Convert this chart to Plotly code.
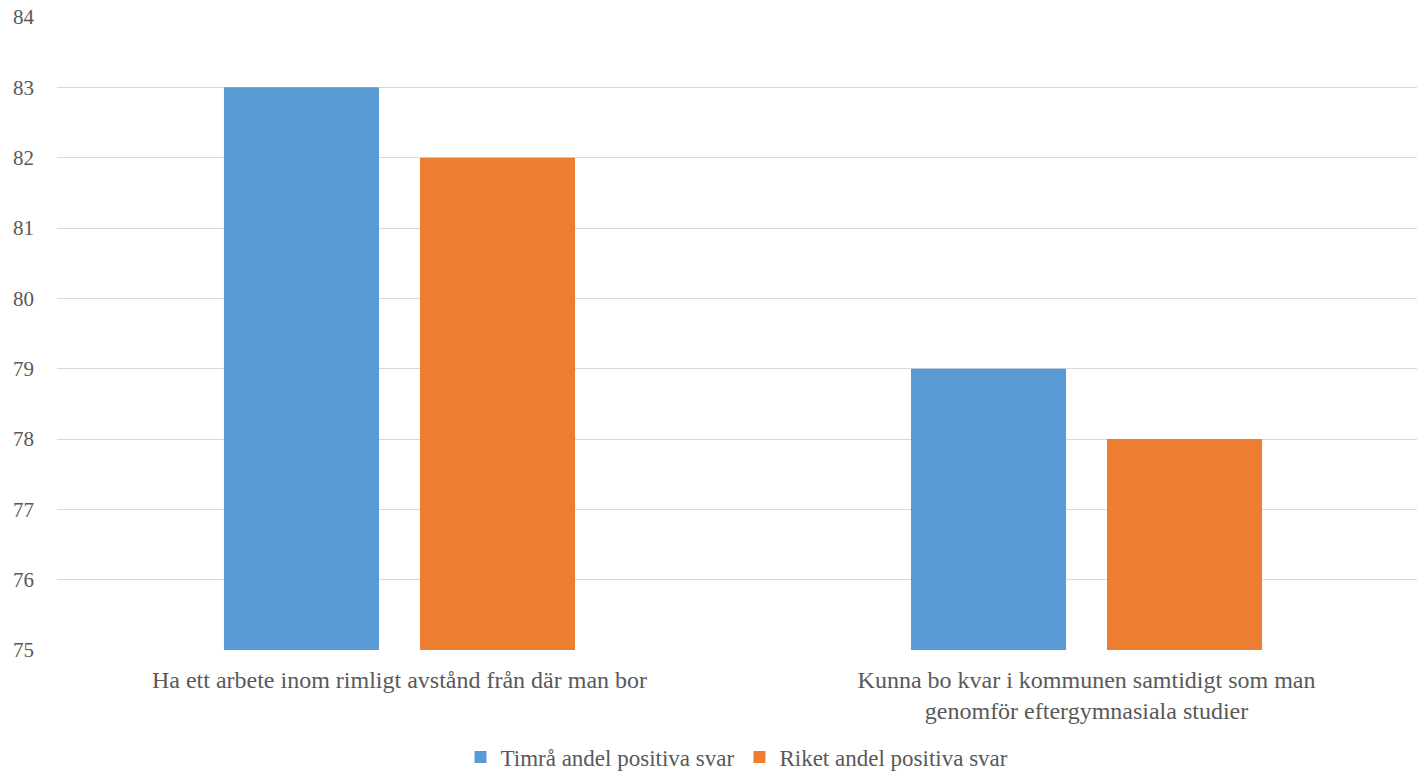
import plotly.graph_objects as go

categories = [
    "Ha ett arbete inom rimligt avstånd från där man bor",
    "Kunna bo kvar i kommunen samtidigt som man<br>genomför eftergymnasiala studier",
]
series_names = ["Timrå andel positiva svar", "Riket andel positiva svar"]
timra = [83, 79]
riket = [82, 78]
colors = ["#5B9BD5", "#ED7D31"]
y_ticks = [75, 76, 77, 78, 79, 80, 81, 82, 83, 84]

FONT = "Liberation Serif"
TXT = "#595959"

fig = go.Figure()
for name, vals, col in zip(series_names, [timra, riket], colors):
    fig.add_trace(go.Bar(
        x=list(range(len(categories))), y=vals, name=name,
        marker=dict(color=col, line=dict(width=0)),
        base=0,
    ))

fig.update_layout(
    width=1417, height=772,
    margin=dict(l=57, r=0, t=17, b=122, autoexpand=False),
    paper_bgcolor="white", plot_bgcolor="white",
    barmode="group", bargap=0.4294, bargroupgap=0.209,
    font=dict(family=FONT, size=20, color=TXT),
    showlegend=True,
    legend=dict(orientation="h", x=0.5, xanchor="center", y=-0.135, yanchor="top",
                font=dict(family=FONT, size=23, color=TXT), itemwidth=30,
                traceorder="normal"),
)
fig.update_xaxes(
    tickmode="array", tickvals=list(range(len(categories))), ticktext=categories,
    range=[-0.4985, 1.481], showgrid=False, zeroline=False, showline=False,
    ticks="", ticklabelstandoff=13, automargin=False,
    tickfont=dict(family=FONT, size=24, color=TXT),
)
fig.update_yaxes(
    range=[75, 84], tickvals=y_ticks, showgrid=True, gridcolor="#D9D9D9", gridwidth=1.3,
    zeroline=False, showline=False, ticks="", ticklabelstandoff=22, automargin=False,
    tickfont=dict(family=FONT, size=21, color=TXT),
)

fig.write_html("out.html", post_script="document.body.style.margin='0';",
               config={"displayModeBar": False})
